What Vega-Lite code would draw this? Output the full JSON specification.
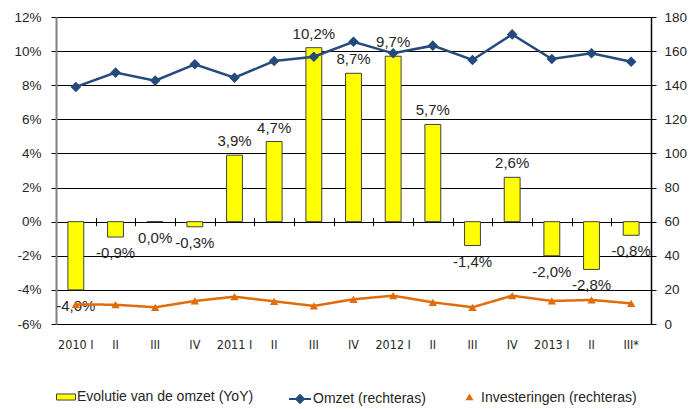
{
  "$schema": "https://vega.github.io/schema/vega-lite/v6.json",
  "width": 595,
  "height": 307,
  "autosize": {"type": "none"},
  "padding": {"left": 56, "top": 17, "right": 38, "bottom": 85},
  "data": {
    "values": [
      {"q": "2010 I", "yoy": -0.040, "omzet": 139.0, "inv": 11.5},
      {"q": "2010 II", "yoy": -0.009, "omzet": 147.4, "inv": 11.3},
      {"q": "2010 III", "yoy": 0.000, "omzet": 142.7, "inv": 9.8},
      {"q": "2010 IV", "yoy": -0.003, "omzet": 152.3, "inv": 13.5},
      {"q": "2011 I", "yoy": 0.039, "omzet": 144.4, "inv": 16.0},
      {"q": "2011 II", "yoy": 0.047, "omzet": 154.2, "inv": 13.3},
      {"q": "2011 III", "yoy": 0.102, "omzet": 156.7, "inv": 10.6},
      {"q": "2011 IV", "yoy": 0.087, "omzet": 165.5, "inv": 14.5},
      {"q": "2012 I", "yoy": 0.097, "omzet": 158.7, "inv": 16.6},
      {"q": "2012 II", "yoy": 0.057, "omzet": 163.2, "inv": 12.7},
      {"q": "2012 III", "yoy": -0.014, "omzet": 154.8, "inv": 9.8},
      {"q": "2012 IV", "yoy": 0.026, "omzet": 169.8, "inv": 16.6},
      {"q": "2013 I", "yoy": -0.020, "omzet": 155.4, "inv": 13.5},
      {"q": "2013 II", "yoy": -0.028, "omzet": 158.7, "inv": 14.1},
      {"q": "2013 III*", "yoy": -0.008, "omzet": 153.8, "inv": 12.1}
    ]
  },
  "layer": [
    {
      "layer": [
        {
          "mark": {"type": "bar", "width": {"band": 0.4}, "stroke": "#404040", "strokeWidth": 1},
          "encoding": {
            "x": {"field": "q", "type": "nominal", "sort": null,
              "scale": {"type": "band", "paddingInner": 0, "paddingOuter": 0},
              "axis": {"title": null, "orient": "bottom", "domain": false, "ticks": false, "grid": false, "labelAngle": 0, "labelPadding": 14,
                "labelFont": "DejaVu Sans Condensed, Liberation Sans", "labelFontSize": 12.5, "labelColor": "#262626", "labelOverlap": false,
                "labelExpr": "slice(datum.label, -2) === ' I' ? datum.label : split(datum.label, ' ')[1]"}},
            "y": {"field": "yoy", "type": "quantitative",
              "scale": {"domain": [-0.06, 0.12], "nice": false, "zero": false},
              "axis": {"title": null, "orient": "left", "values": [-0.06, -0.04, -0.02, 0, 0.02, 0.04, 0.06, 0.08, 0.1, 0.12], "tickCount": 20,
                "format": ".0%", "grid": true, "gridColor": "#000000", "gridWidth": 1, "gridOpacity": 1, "labelOverlap": false,
                "domainColor": "#808080", "domainWidth": 2, "tickColor": "#000000", "tickSize": 5, "labelPadding": 10,
                "labelFontSize": 13.5, "labelColor": "#262626"}},
            "color": {"datum": "Evolutie van de omzet (YoY)", "type": "nominal",
              "scale": {"range": ["#FFFF00"]},
              "legend": {"title": null, "orient": "none", "legendX": 0, "legendY": 370,
                "labelFont": "Liberation Sans", "labelFontSize": 14, "labelColor": "#262626", "labelOffset": 1, "labelLimit": 400,
                "symbolType": "M-1,-0.32H1V0.32H-1Z", "symbolSize": 361, "symbolStrokeColor": "#404040", "symbolStrokeWidth": 1,
                "symbolFillColor": "#FFFF00", "symbolOpacity": 1}}
          }
        },
        {
          "transform": [{"filter": "datum.yoy > 0"}],
          "mark": {"type": "text", "baseline": "alphabetic", "dy": -9, "fontSize": 15, "color": "#262626"},
          "encoding": {
            "x": {"field": "q", "type": "nominal", "sort": null},
            "y": {"field": "yoy", "type": "quantitative"},
            "text": {"field": "yoy", "type": "quantitative", "format": ".1%"}
          }
        },
        {
          "transform": [{"filter": "datum.yoy <= 0"}],
          "mark": {"type": "text", "baseline": "top", "dy": 9, "fontSize": 15, "color": "#262626"},
          "encoding": {
            "x": {"field": "q", "type": "nominal", "sort": null},
            "y": {"field": "yoy", "type": "quantitative"},
            "text": {"field": "yoy", "type": "quantitative", "format": ".1%"}
          }
        }
      ]
    },
    {
      "layer": [
        {
          "mark": {"type": "line", "strokeWidth": 2.5, "color": "#254B7C", "point": {"shape": "diamond", "size": 60, "filled": true, "color": "#254B7C"}},
          "encoding": {
            "x": {"field": "q", "type": "nominal", "sort": null,
              "axis": {"title": null, "orient": "bottom", "offset": -106.3, "labels": false, "domain": false, "grid": false,
                "ticks": true, "tickBand": "extent", "tickSize": 8, "tickColor": "#000000", "tickWidth": 1}},
            "y": {"field": "omzet", "type": "quantitative",
              "scale": {"domain": [0, 180], "nice": false},
              "axis": {"title": null, "orient": "right", "values": [0, 20, 40, 60, 80, 100, 120, 140, 160, 180], "tickCount": 20, "grid": false, "labelOverlap": false,
                "domainColor": "#000000", "domainWidth": 1.5, "tickColor": "#000000", "tickSize": 5, "labelPadding": 8,
                "labelFontSize": 13.5, "labelColor": "#262626"}},
            "stroke": {"datum": "Omzet (rechteras)", "type": "nominal",
              "scale": {"range": ["#254B7C"]},
              "legend": {"title": null, "orient": "none", "legendX": 232, "legendY": 370,
                "labelFont": "Liberation Sans", "labelFontSize": 14, "labelColor": "#262626", "labelOffset": 1, "labelLimit": 400,
                "symbolType": "M-1,0H1M0,-0.36L0.36,0L0,0.36L-0.36,0Z", "symbolSize": 484, "symbolStrokeWidth": 2,
                "symbolStrokeColor": "#254B7C", "symbolFillColor": "#254B7C", "symbolOpacity": 1}}
          }
        },
        {
          "mark": {"type": "line", "strokeWidth": 2.5, "color": "#E36C0A", "point": {"shape": "triangle-up", "size": 70, "filled": true, "color": "#E36C0A"}},
          "encoding": {
            "x": {"field": "q", "type": "nominal", "sort": null},
            "y": {"field": "inv", "type": "quantitative"},
            "strokeDash": {"datum": "Investeringen (rechteras)", "type": "nominal",
              "scale": {"range": [[1, 0]]},
              "legend": {"title": null, "orient": "none", "legendX": 403, "legendY": 370,
                "labelFont": "Liberation Sans", "labelFontSize": 14, "labelColor": "#262626", "labelOffset": 1, "labelLimit": 400,
                "symbolType": "M-1,0H1M0,-0.42L0.42,0.3H-0.42Z", "symbolSize": 361, "symbolStrokeWidth": 2,
                "symbolStrokeColor": "#E36C0A", "symbolFillColor": "#E36C0A", "symbolOpacity": 1}}
          }
        }
      ]
    }
  ],
  "resolve": {"scale": {"y": "independent"}, "axis": {"x": "independent", "y": "independent"}},
  "config": {
    "view": {"stroke": null},
    "font": "Liberation Sans",
    "locale": {"number": {"decimal": ",", "thousands": ".", "grouping": [3], "currency": ["€", ""], "minus": "-"}}
  }
}
